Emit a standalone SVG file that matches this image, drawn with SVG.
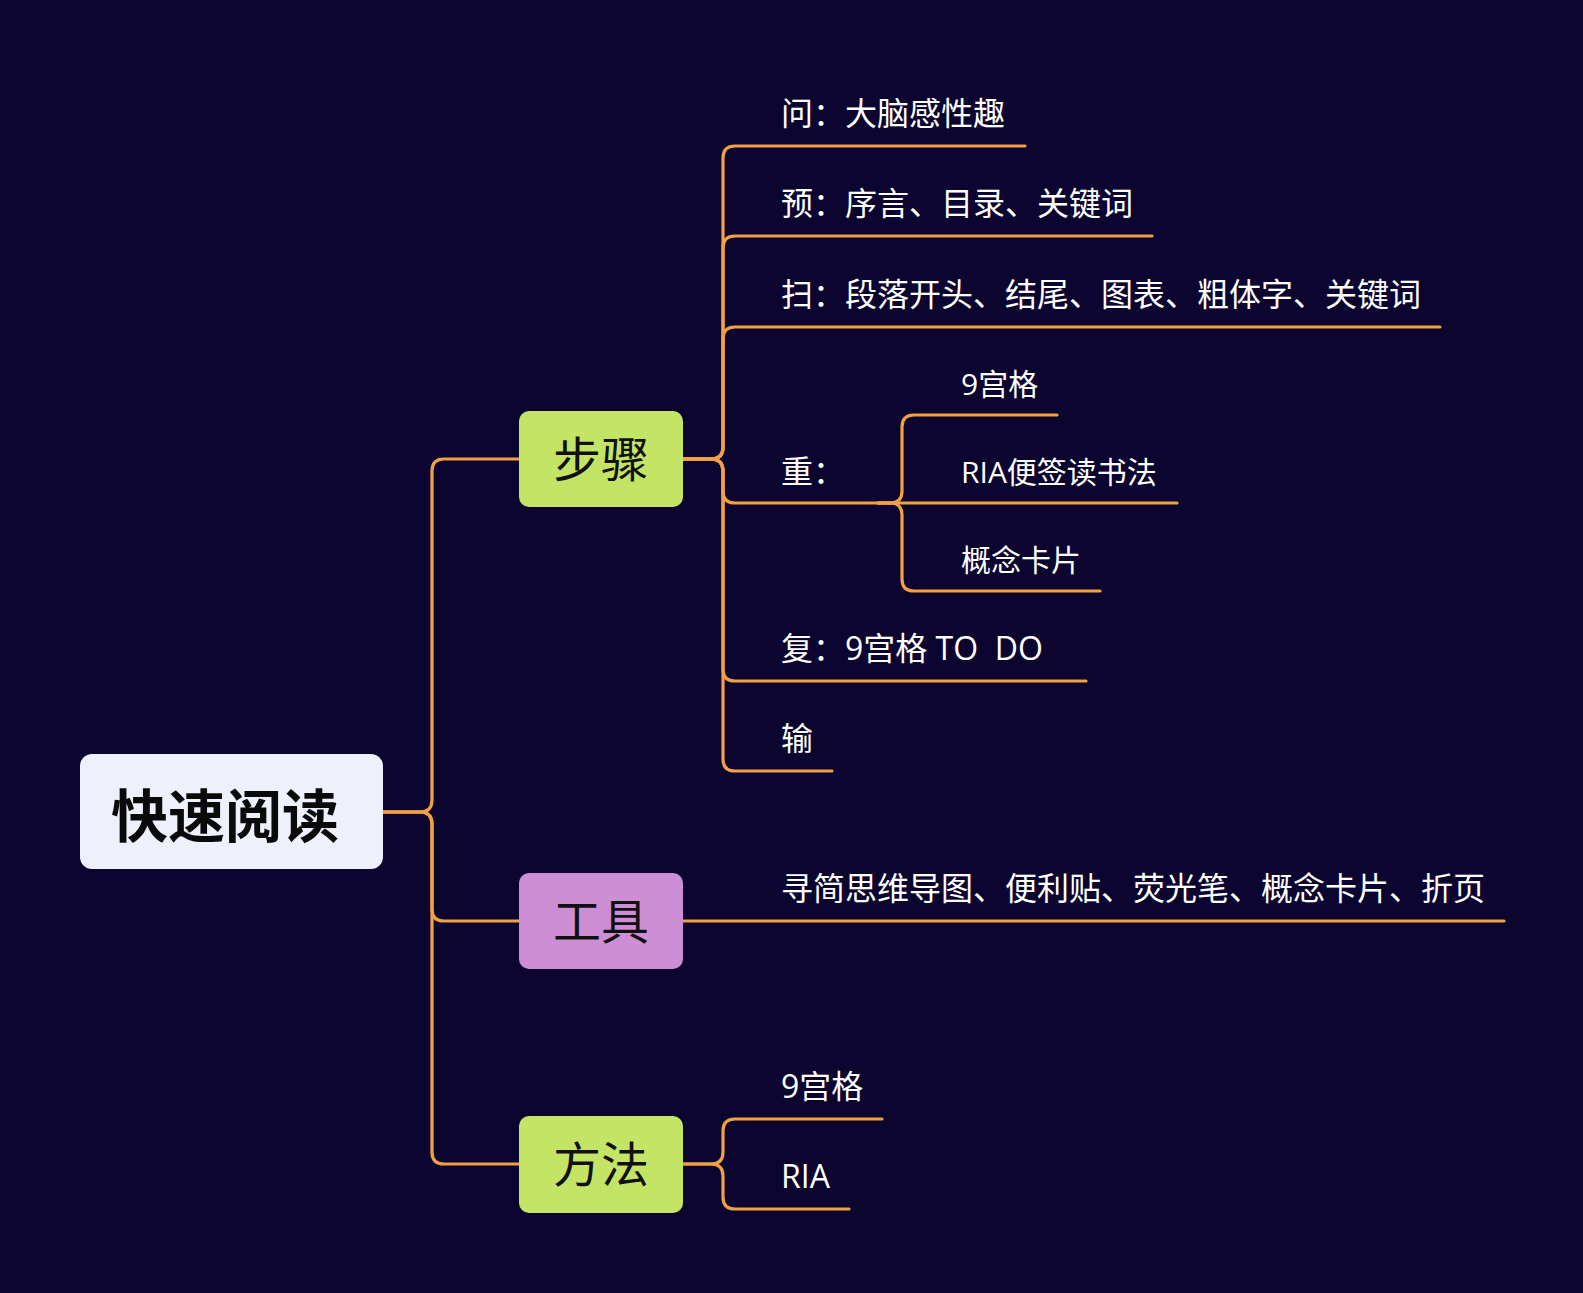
<svg xmlns="http://www.w3.org/2000/svg" width="1583" height="1293" viewBox="0 0 1583 1293">
<defs>
<style>
.bg{fill:#0b0530}
.conn path{fill:none;stroke:#f2a044;stroke-width:3.2;stroke-linecap:round;stroke-linejoin:round}
.t2{font-family:"Open Sans","Noto Sans CJK SC","Microsoft YaHei",sans-serif;font-size:32px;fill:#ffffff;dominant-baseline:central}
.t3{font-family:"Open Sans","Noto Sans CJK SC","Microsoft YaHei",sans-serif;font-size:30px;fill:#ffffff;dominant-baseline:central}
.tb{font-family:"Noto Sans CJK SC","Microsoft YaHei",sans-serif;font-size:48px;fill:#111111;text-anchor:middle;dominant-baseline:central}
.troot{font-family:"Noto Sans CJK SC","Microsoft YaHei",sans-serif;font-size:57px;font-weight:bold;fill:#0a0a0a;text-anchor:middle;dominant-baseline:central}
</style>
</defs>
<rect class="bg" x="0" y="0" width="1583" height="1293"/>
<g class="conn" id="connectors">
<path d="M383,812 H420 Q432,812 432,800 V471 Q432,459 444,459 H519"/>
<path d="M383,812 H420 Q432,812 432,824 V909 Q432,921 444,921 H519"/>
<path d="M383,812 H420 Q432,812 432,824 V1152 Q432,1164 444,1164 H519"/>
<path d="M683,459 H711 Q723,459 723,447 V158 Q723,146 735,146 H1025"/>
<path d="M683,459 H711 Q723,459 723,447 V248 Q723,236 735,236 H1152"/>
<path d="M683,459 H711 Q723,459 723,447 V339 Q723,327 735,327 H1440"/>
<path d="M683,459 H711 Q723,459 723,471 V491 Q723,503 735,503 H890"/>
<path d="M683,459 H711 Q723,459 723,471 V669 Q723,681 735,681 H1086"/>
<path d="M683,459 H711 Q723,459 723,471 V759 Q723,771 735,771 H832"/>
<path d="M878,503 H890 Q902,503 902,491 V427 Q902,415 914,415 H1057"/>
<path d="M878,503 H1177"/>
<path d="M878,503 H890 Q902,503 902,515 V579 Q902,591 914,591 H1100"/>
<path d="M683,921 H1504"/>
<path d="M683,1164 H711 Q723,1164 723,1152 V1131 Q723,1119 735,1119 H882"/>
<path d="M683,1164 H711 Q723,1164 723,1176 V1197 Q723,1209 735,1209 H849"/>
</g>
<g id="root">
<rect x="80" y="754" width="303" height="115" rx="12" fill="#eef0fb"/>
<text class="troot" x="225" y="812">快速阅读</text>
</g>
<g id="buzhou">
<rect x="519" y="411" width="164" height="96" rx="10" fill="#c4e466"/>
<text class="tb" x="601" y="456">步骤</text>
</g>
<g id="gongju">
<rect x="519" y="873" width="164" height="96" rx="10" fill="#cd8ed6"/>
<text class="tb" x="601" y="918">工具</text>
</g>
<g id="fangfa">
<rect x="519" y="1116" width="164" height="97" rx="10" fill="#c4e466"/>
<text class="tb" x="601" y="1161">方法</text>
</g>
<g id="wen"><text class="t2" x="781" y="112">问：大脑感性趣</text></g>
<g id="yu"><text class="t2" x="781" y="202">预：序言、目录、关键词</text></g>
<g id="sao"><text class="t2" x="781" y="293">扫：段落开头、结尾、图表、粗体字、关键词</text></g>
<g id="zhong"><text class="t2" x="781" y="470">重：</text></g>
<g id="zhong-9"><text class="t3" x="961" y="383">9宫格</text></g>
<g id="zhong-ria"><text class="t3" x="961" y="471">RIA便签读书法</text></g>
<g id="zhong-card"><text class="t3" x="961" y="559">概念卡片</text></g>
<g id="fu"><text class="t2" x="781" y="647" style="white-space:pre">复：9宫格 TO  DO</text></g>
<g id="shu"><text class="t2" x="781" y="737">输</text></g>
<g id="tools"><text class="t2" x="781" y="887">寻简思维导图、便利贴、荧光笔、概念卡片、折页</text></g>
<g id="ff-9"><text class="t2" x="781" y="1085">9宫格</text></g>
<g id="ff-ria"><text class="t2" x="781" y="1175">RIA</text></g>
</svg>
